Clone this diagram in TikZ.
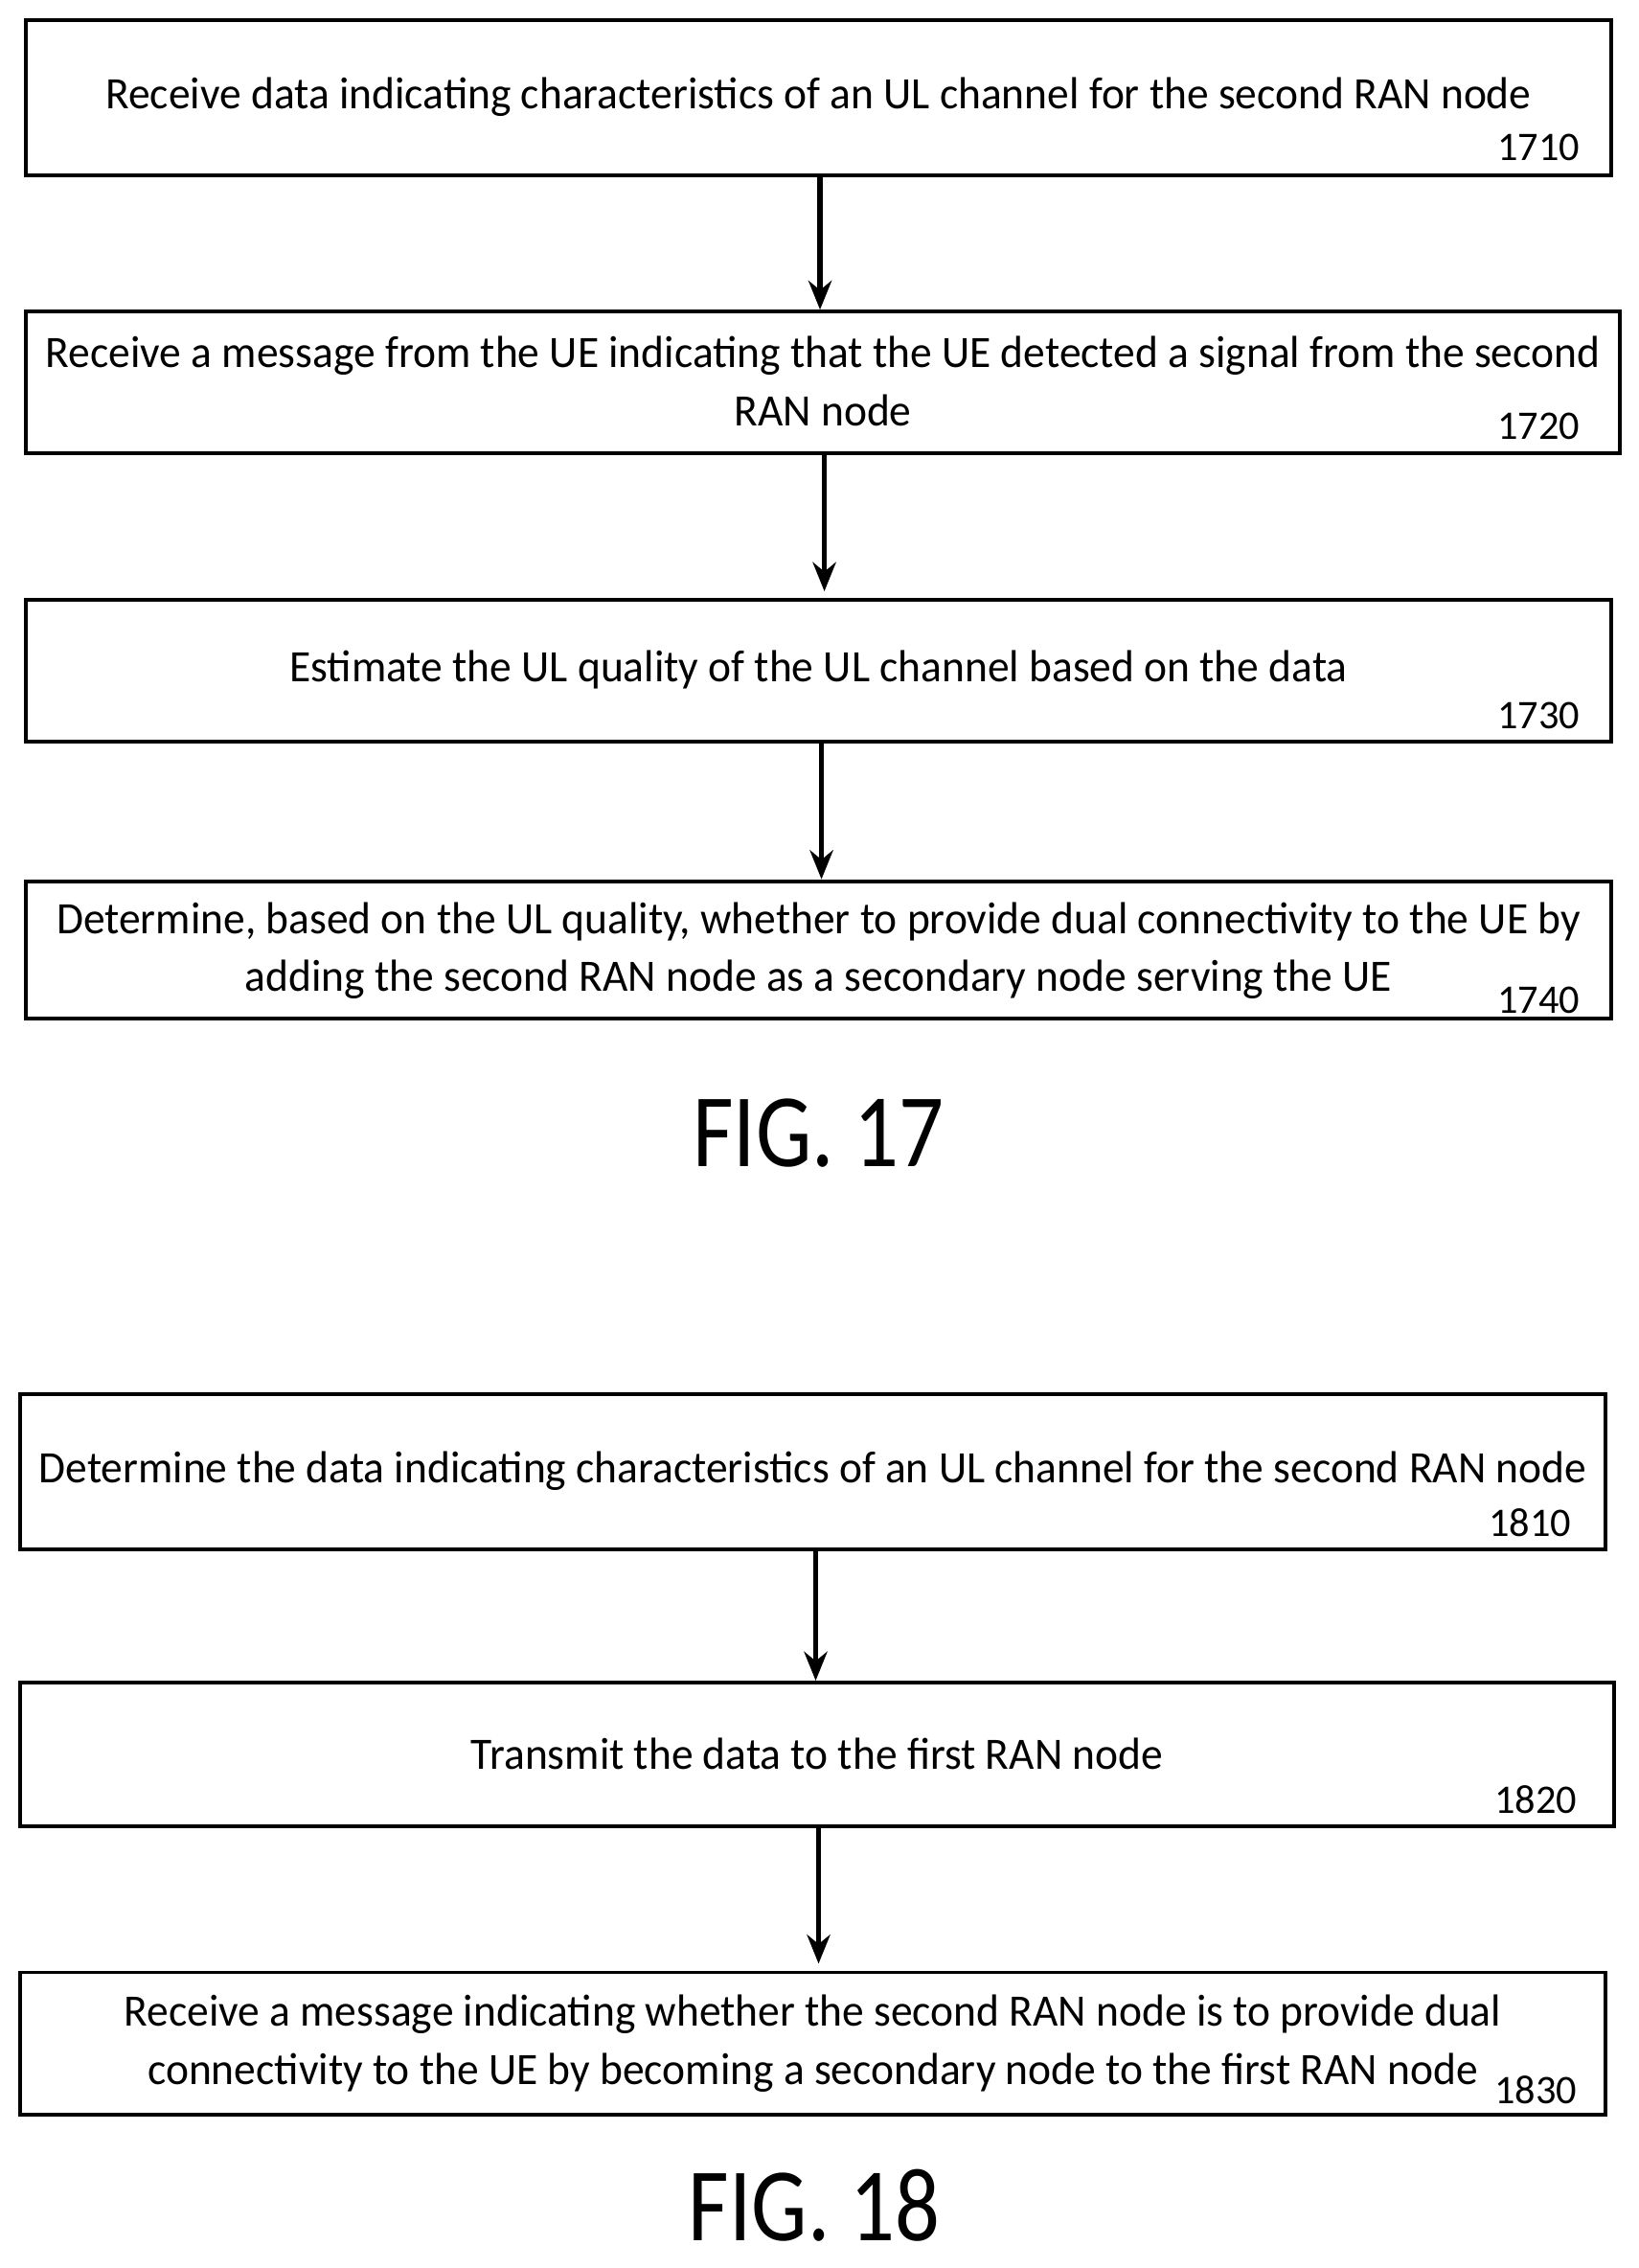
\documentclass[tikz,border=0pt]{standalone}
\usepackage{fontspec}
\setmainfont{Carlito}
\usetikzlibrary{arrows.meta}
\newcommand{\sq}[1]{\scalebox{0.97}[1]{#1}}
\begin{document}
\begin{tikzpicture}[x=0.5pt,y=-0.5pt,
 box/.style={draw,line width=1.3pt,inner sep=0pt,align=center,font=\fontsize{15.5}{20}\selectfont},
 txt/.style={font=\fontsize{15.5}{20}\selectfont,align=center},
 lab/.style={font=\fontsize{14}{16}\selectfont,anchor=center},
 fig/.style={font=\fontsize{36}{40}\selectfont},
 arr/.style={-{Stealth[length=10pt,width=8pt]},line width=1.7pt}]
\useasboundingbox (0,0) rectangle (1131,1565);
\node[box,minimum width=547pt,minimum height=53.5pt] (b1) at (565,67.5) {};
\node[txt] (t1) at (565,67) {\sq{Receive data indicating characteristics of an UL channel for the second RAN node}};
\node[lab] (l1) at (1062,102) {1710};
\node[box,minimum width=550pt,minimum height=49pt] (b2) at (568,264) {};
\node[txt] (t2) at (568,263) {\sq{Receive a message from the UE indicating that the UE detected a signal from the second}\\\sq{RAN node}};
\node[lab] (l2) at (1062,294) {1720};
\node[box,minimum width=547pt,minimum height=49pt] (b3) at (565,463) {};
\node[txt] (t3) at (565,462) {\sq{Estimate the UL quality of the UL channel based on the data}};
\node[lab] (l3) at (1062,494) {1730};
\node[box,minimum width=547pt,minimum height=47.5pt] (b4) at (565,655.5) {};
\node[txt] (t4) at (565,656) {\sq{Determine, based on the UL quality, whether to provide dual connectivity to the UE by}\\\sq{adding the second RAN node as a secondary node serving the UE}};
\node[lab] (l4) at (1062,690) {1740};
\node[fig] (f17) at (565,782) {\scalebox{0.85}[1]{FIG. 17}};
\node[box,minimum width=547pt,minimum height=53.5pt] (b5) at (561,1015.5) {};
\node[txt] (t5) at (561,1015) {\sq{Determine the data indicating characteristics of an UL channel for the second RAN node}};
\node[lab] (l5) at (1056,1051) {1810};
\node[box,minimum width=550pt,minimum height=49.5pt] (b6) at (564,1210.5) {};
\node[txt] (t6) at (564,1210) {\sq{Transmit the data to the first RAN node}};
\node[lab] (l6) at (1060,1242) {1820};
\node[box,minimum width=547pt,minimum height=49pt] (b7) at (561,1410) {};
\node[txt] (t7) at (561,1410) {\sq{Receive a message indicating whether the second RAN node is to provide dual}\\\sq{connectivity to the UE by becoming a secondary node to the first RAN node}};
\node[lab] (l7) at (1060,1442) {1830};
\node[fig] (f18) at (562,1522) {\scalebox{0.85}[1]{FIG. 18}};
\draw[arr] (b1.south -| 566,0) -- (b2.north -| 566,0);
\draw[arr] (b2.south -| 569,0) -- (569,408);
\draw[arr] (b3.south -| 567,0) -- (b4.north -| 567,0);
\draw[arr] (b5.south -| 563,0) -- (b6.north -| 563,0);
\draw[arr] (b6.south -| 565,0) -- (565,1355);
\end{tikzpicture}
\end{document}
